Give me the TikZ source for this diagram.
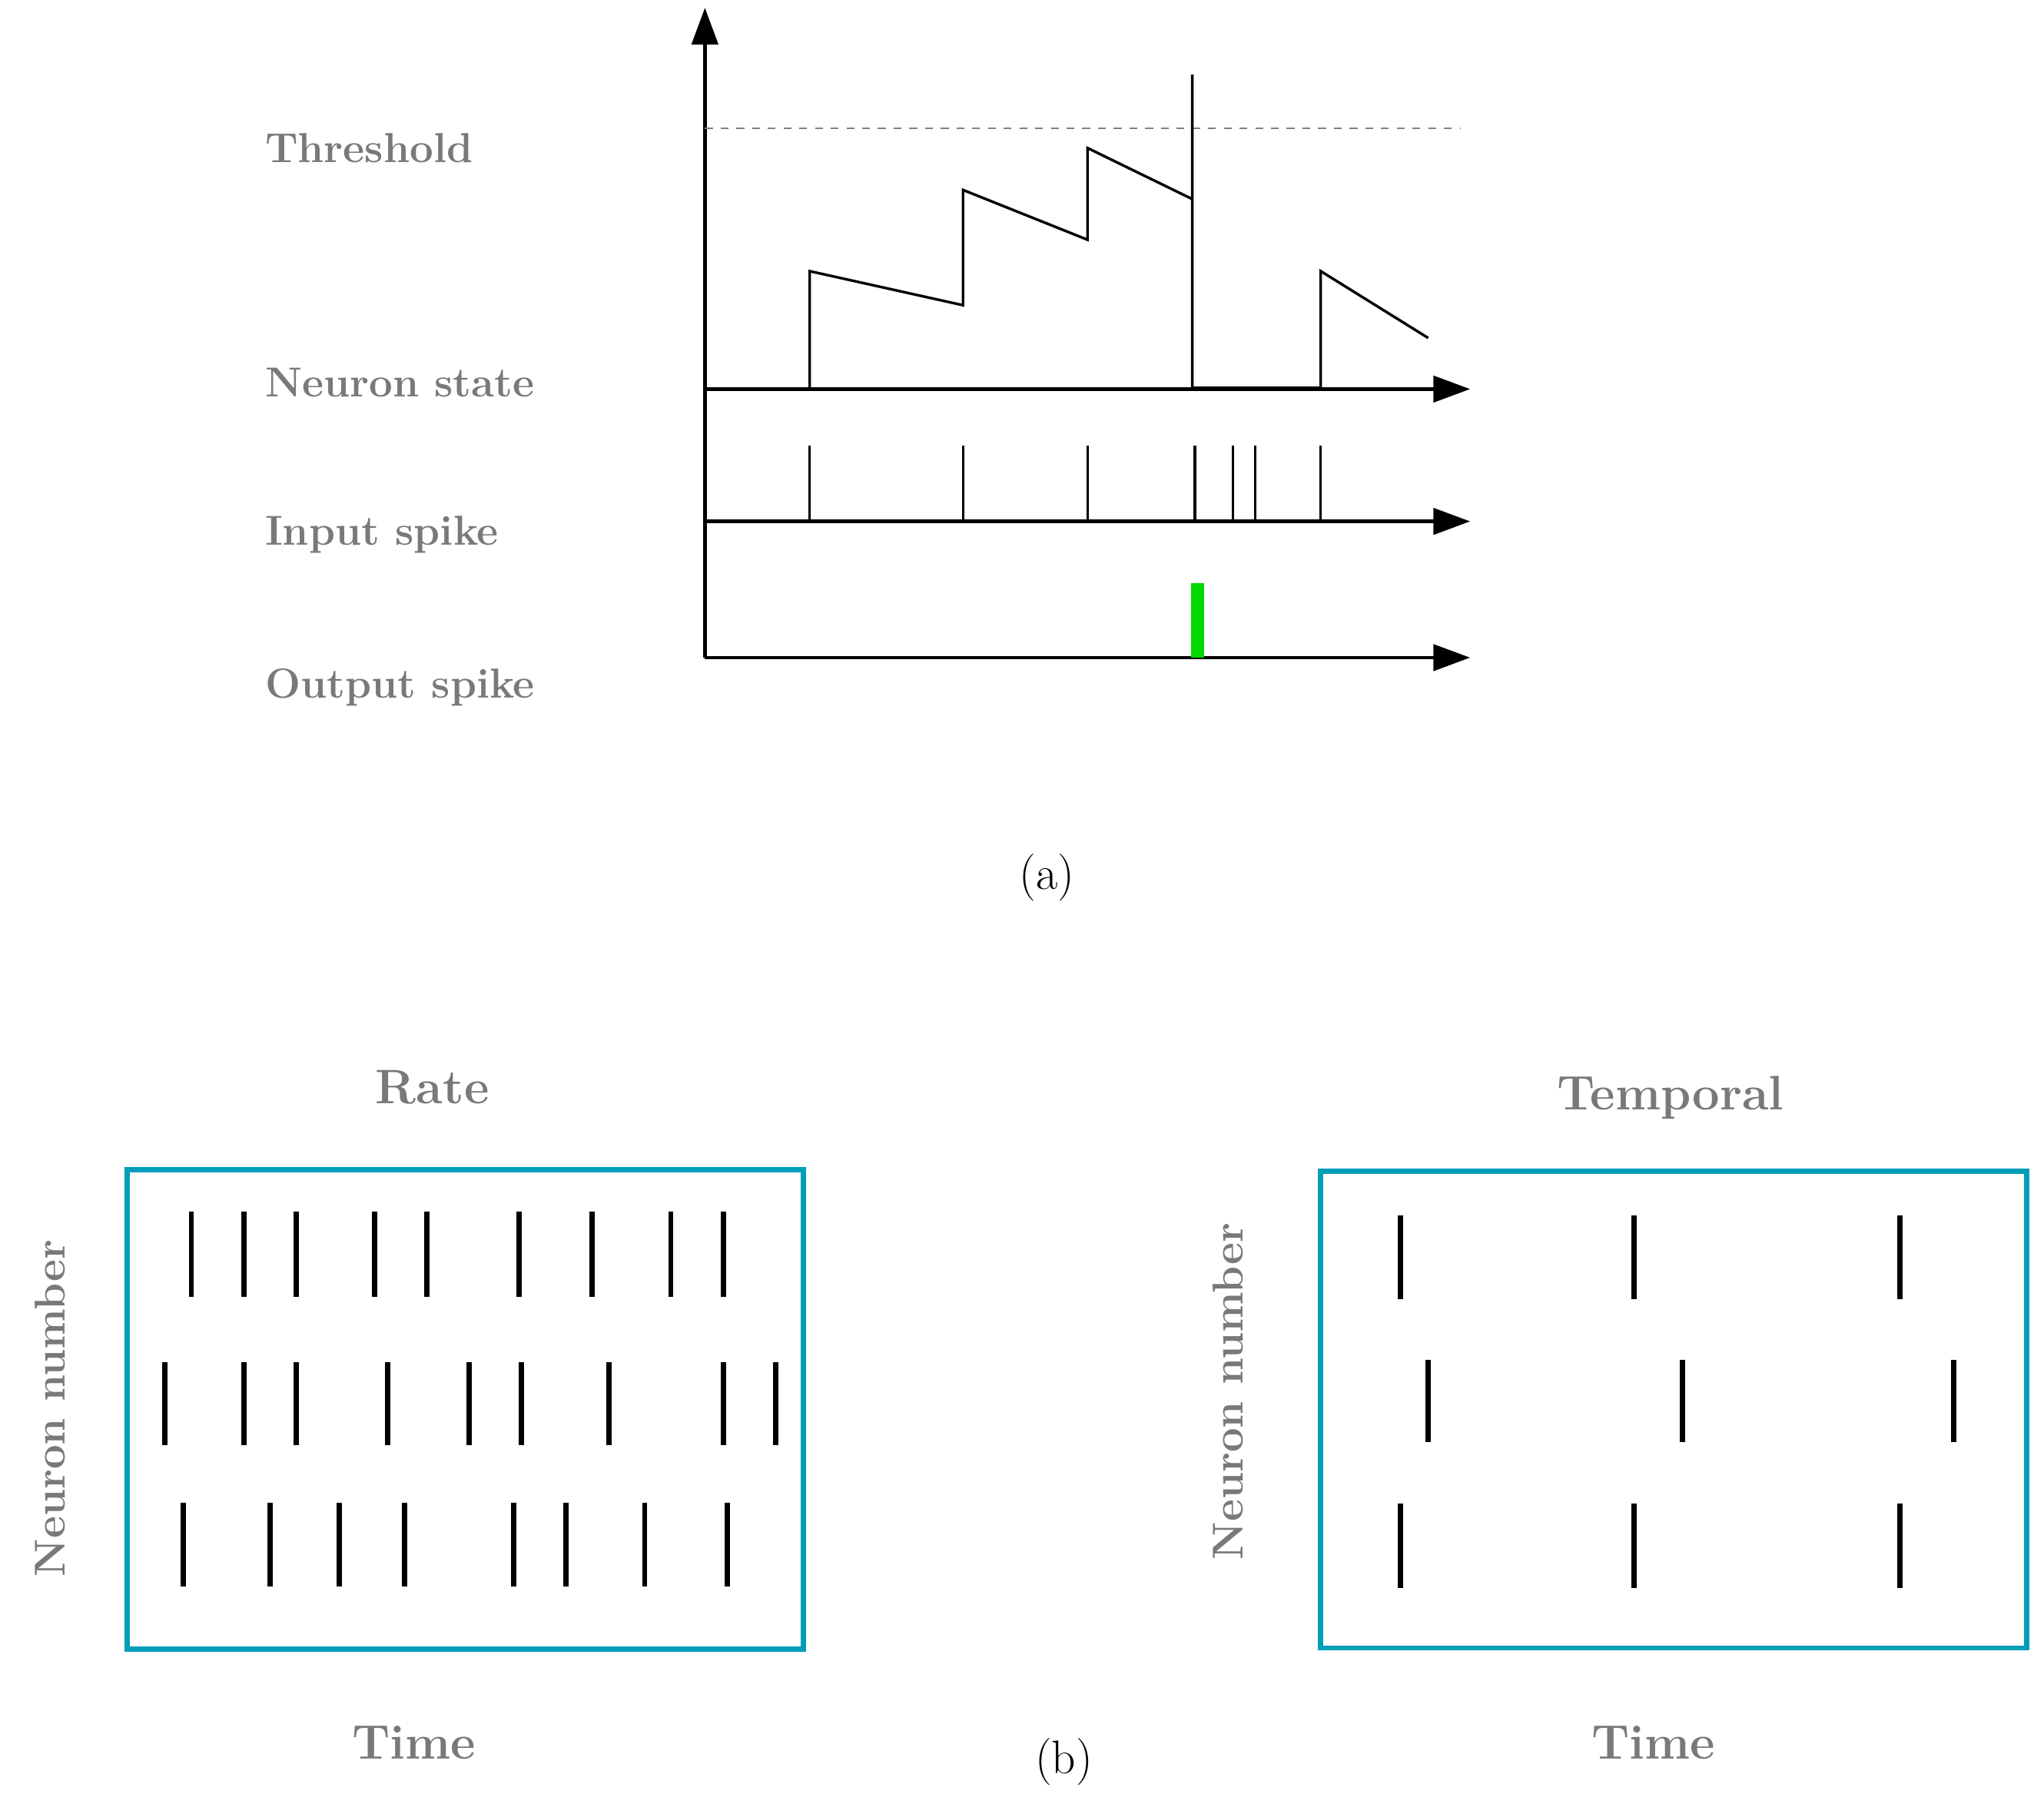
\documentclass[tikz,border=0pt]{standalone}
\usetikzlibrary{arrows.meta}
\definecolor{boxc}{RGB}{0,158,184}
\begin{document}
\begin{tikzpicture}[x=0.5pt,y=-0.5pt,
  lab/.style={text=gray!95!black,font=\fontsize{16}{19}\selectfont\bfseries,inner sep=0},
  blab/.style={lab,font=\fontsize{18.5}{22}\selectfont\bfseries},
  axis/.style={line width=1.3pt,-{Triangle[length=14pt,width=10pt]}},
  spk/.style={line width=1pt},
  rs/.style={line width=2pt},
  box/.style={draw=boxc,line width=2pt}]
\useasboundingbox (0,0) rectangle (1560,1379);
% axes
\coordinate (o) at (538,502);
\coordinate (top) at (538,6);
\draw[axis] (o) -- (top);
\coordinate (ns0) at (538,297); \coordinate (ns1) at (1122,297);
\coordinate (is0) at (538,398); \coordinate (is1) at (1122,398);
\coordinate (os1) at (1122,502);
\draw[axis] (ns0) -- (ns1);
\draw[axis] (is0) -- (is1);
\draw[axis] (o) -- (os1);
\draw[gray,dashed,line width=0.7pt] (538,98) -- (1115,98);
% waveform
\draw[line width=1pt] (618,297) -- (618,207) -- (735,233) -- (735,145) -- (830,183) -- (830,113) -- (910,152) -- (910,57) -- (910,296) -- (1008,296) -- (1008,207) -- (1090,258);
% input spikes
\foreach \x in {618,735,830,912,941,958,1008} \draw[spk] (\x,340) -- (\x,398);
\fill[green!85!black] (909,445) rectangle (919,502);
% labels
\node[lab,anchor=west] (th) at (202,113) {Threshold};
\node[lab,anchor=west] (nsl) at (202,292) {Neuron state};
\node[lab,anchor=west] (isl) at (202,408) {Input spike};
\node[lab,anchor=west] (osl) at (202,525) {Output spike};
\node[font=\fontsize{18}{21}\selectfont] (a) at (799,670) {(a)};
% (b)
\node[blab] (rate) at (330,830) {Rate};
\node[blab] (temp) at (1275,838) {Temporal};
\draw[box] (97,893) rectangle (613,1259);
\draw[box] (1008,894) rectangle (1547,1258);
\node[lab,font=\fontsize{16.5}{20}\selectfont\bfseries,rotate=90] (nn1) at (38,1075) {Neuron number};
\node[lab,font=\fontsize{16.5}{20}\selectfont\bfseries,rotate=90] (nn2) at (937,1062) {Neuron number};
\node[blab] (t1) at (316,1330) {Time};
\node[blab] (t2) at (1262,1330) {Time};
\node[font=\fontsize{18}{21}\selectfont] (b) at (812,1345) {(b)};
\foreach \x in {146,186,226,286,326,396,452,512,552} \draw[rs] (\x,925) -- (\x,990);
\foreach \x in {126,186,226,296,358,398,465,552,592} \draw[rs] (\x,1040) -- (\x,1103);
\foreach \x in {140,206,259,309,392,432,492,555} \draw[rs] (\x,1147) -- (\x,1211);
\foreach \x in {1069,1247,1450} \draw[rs] (\x,928) -- (\x,992);
\foreach \x in {1090,1284,1491} \draw[rs] (\x,1038) -- (\x,1101);
\foreach \x in {1069,1247,1450} \draw[rs] (\x,1148) -- (\x,1212);
\end{tikzpicture}
\end{document}
